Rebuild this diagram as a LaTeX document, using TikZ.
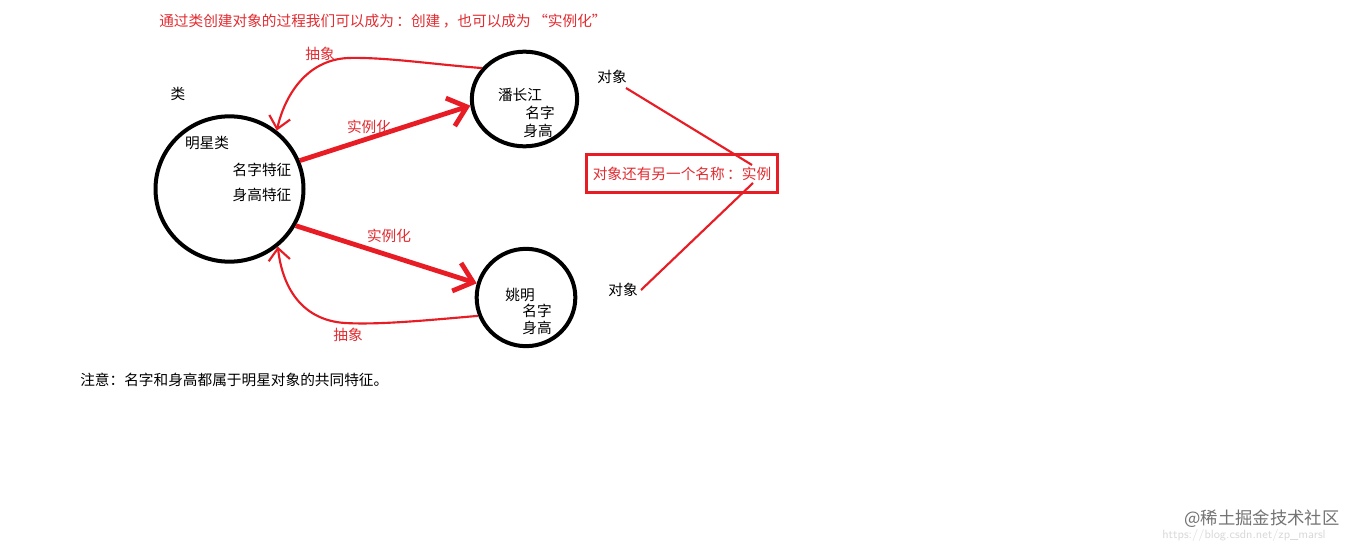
\documentclass[tikz,border=0pt]{standalone}
\usepackage{fontspec}
\setmainfont{Noto Sans CJK SC}
\usetikzlibrary{arrows.meta,shapes.geometric}
\definecolor{rd}{RGB}{232,28,36}
\definecolor{rdtxt}{RGB}{225,45,50}
\begin{document}
\begin{tikzpicture}[x=0.75pt,y=-0.75pt,
  every node/.style={font=\fontsize{11}{13}\selectfont, inner sep=0pt},
  obj/.style={draw=black, line width=3pt, ellipse, inner sep=0pt},
  lbl/.style={text=black},
  rlbl/.style={text=rdtxt},
  thick arrow/.style={draw=rd, line width=3.6pt, -{Straight Barb[length=13pt,width=22pt]}},
  thin arrow/.style={draw=rd, line width=1.6pt, -{Straight Barb[length=9pt,width=16pt]}},
  thin line/.style={draw=rd, line width=1.6pt},
]
\fill[white] (0,0) rectangle (1359,549);
\useasboundingbox (0,0) rectangle (1359,549);

% title
\node[rlbl, anchor=west] (title) at (159,21) {通过类创建对象的过程我们可以成为\,：创建\,，也可以成为\,“实例化”};

% class circle
\node[obj, minimum width=111pt, minimum height=109pt] (star) at (229.5,189) {};
\node[lbl] (lei) at (178,94) {类};
\node[lbl] (mxl) at (207,143) {明星类};
\node[lbl] (mzt) at (262,170) {名字特征};
\node[lbl] (sgt) at (262,195) {身高特征};

% object 1
\node[obj, minimum width=79pt, minimum height=71pt] (pcj) at (524.5,99) {};
\node[lbl] (pcjn) at (520,95) {潘长江};
\node[lbl] (pcjm) at (540,113) {名字};
\node[lbl] (pcjs) at (538,131) {身高};

% object 2
\node[obj, minimum width=74pt, minimum height=73pt] (ym) at (526,297.5) {};
\node[lbl] (ymn) at (520,295) {姚明};
\node[lbl] (ymm) at (537,311) {名字};
\node[lbl] (yms) at (537,328) {身高};

% instantiation arrows
\draw[thick arrow] (star.22) -- (pcj.187);
\node[rlbl] (sl1) at (369,127) {实例化};
\draw[thick arrow] (star.-29) -- (ym.164);
\node[rlbl] (sl2) at (389,236) {实例化};

% abstraction arrows
\draw[thin arrow] (pcj.144) .. controls (430,64) and (385,57) .. (348,58)
   .. controls (305,60) and (284,98) .. (star.51);
\node[rlbl] (cx1) at (320,54) {抽象};
\draw[thin arrow] (ym.201) .. controls (430,320) and (380,325) .. (345,323)
   .. controls (300,320) and (282,285) .. (star.-50);
\node[rlbl] (cx2) at (348,335) {抽象};

% object labels and instance box
\node[lbl] (dx1) at (612,77) {对象};
\node[lbl] (dx2) at (623,290) {对象};
\node[draw=rd, line width=2.2pt, minimum width=143pt, minimum height=28pt, text=rdtxt] (box) at (682,173.5) {对象还有另一个名称\,：实例};
\coordinate (bt) at (752,165);
\coordinate (bb) at (753,183);
\draw[thin line] (626,88) -- (bt);
\draw[thin line] (bb) -- (641,290);

% note
\node[lbl, anchor=west] (note) at (80,380) {注意：名字和身高都属于明星对象的共同特征。};

% watermark
\node[text=black!15, font=\fontsize{9}{10}\selectfont\sffamily] (url) at (1244,535) {https://blog.csdn.net/zp\_marsl};
\node[text=black!55, font=\fontsize{13}{14}\selectfont] (wm) at (1262,519) {@稀土掘金技术社区};
\end{tikzpicture}
\end{document}
